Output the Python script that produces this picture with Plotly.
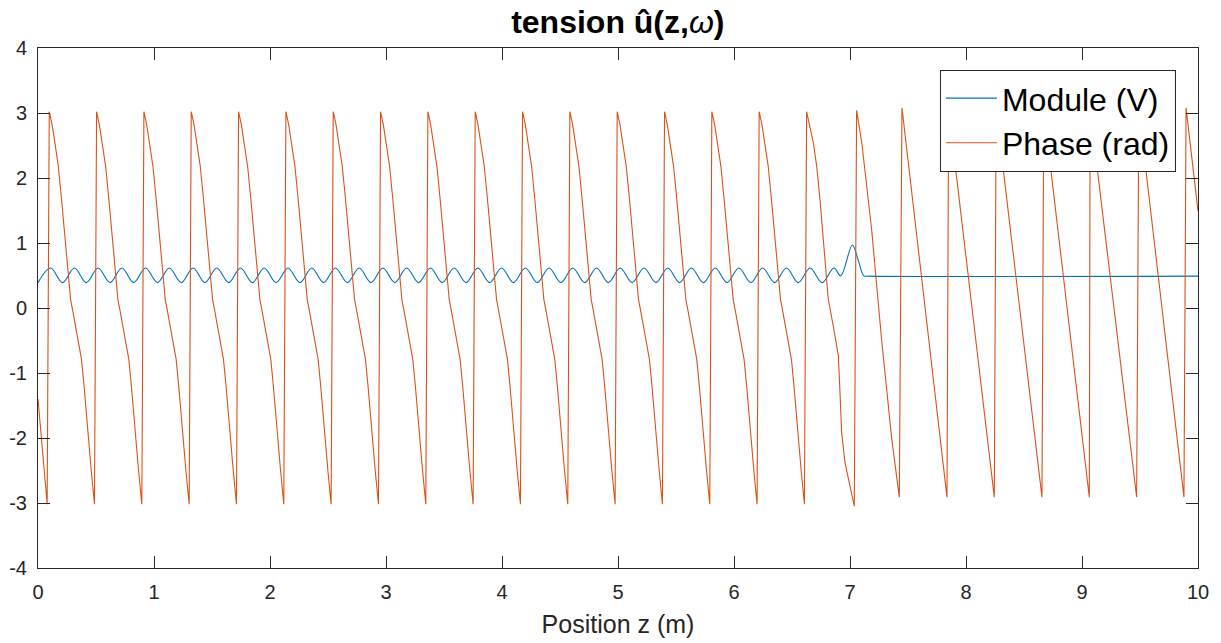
import plotly.graph_objects as go

# ---------------- data ----------------
# Module (V): alternating minima / maxima of the standing-wave ripple, then bump and flat tail
module_z = [0.000, 0.109, 0.212, 0.314, 0.416, 0.518, 0.621, 0.723, 0.825, 0.927,
            1.030, 1.132, 1.235, 1.337, 1.439, 1.541, 1.644, 1.746, 1.848, 1.950,
            2.053, 2.155, 2.258, 2.360, 2.462, 2.564, 2.667, 2.769, 2.871, 2.973,
            3.076, 3.178, 3.281, 3.383, 3.485, 3.587, 3.690, 3.792, 3.894, 3.996,
            4.099, 4.201, 4.304, 4.406, 4.508, 4.610, 4.713, 4.815, 4.917, 5.019,
            5.122, 5.224, 5.327, 5.429, 5.531, 5.633, 5.736, 5.838, 5.940, 6.042,
            6.145, 6.247, 6.350, 6.452, 6.554, 6.656, 6.759, 6.861,
            6.920, 7.020, 7.070, 7.120, 7.160, 10.000]
module_v = [0.39, 0.615, 0.39, 0.615, 0.39, 0.615, 0.39, 0.615, 0.39, 0.615,
            0.39, 0.615, 0.39, 0.615, 0.39, 0.615, 0.39, 0.615, 0.39, 0.615,
            0.39, 0.615, 0.39, 0.615, 0.39, 0.615, 0.39, 0.615, 0.39, 0.615,
            0.39, 0.615, 0.39, 0.615, 0.39, 0.615, 0.39, 0.615, 0.39, 0.615,
            0.39, 0.615, 0.39, 0.615, 0.39, 0.615, 0.39, 0.615, 0.39, 0.615,
            0.39, 0.615, 0.39, 0.615, 0.39, 0.615, 0.39, 0.615, 0.39, 0.615,
            0.39, 0.615, 0.39, 0.615, 0.39, 0.615, 0.39, 0.615,
            0.495, 0.97, 0.74, 0.495, 0.49, 0.49]

# Phase (rad): first partial descent
phase_start_z = [0.000, 0.040, 0.079]
phase_start_v = [-1.40, -2.25, -3.02]
# positions of the -pi -> +pi wraps for the regular cycles (z < 6.63)
phase_wrap_z = [0.097, 0.505, 0.913, 1.321, 1.729, 2.137, 2.545, 2.953,
                3.361, 3.769, 4.177, 4.585, 4.993, 5.401, 5.809, 6.217]
# shape of one regular cycle, read from the cycle starting at z = 0.505
cycle_dz = [0.000, 0.024, 0.049, 0.078, 0.106, 0.135, 0.164, 0.184,
            0.201, 0.235, 0.278, 0.300, 0.320, 0.340, 0.362, 0.390]
cycle_v = [3.02, 2.82, 2.54, 2.18, 1.67, 1.05, 0.44, 0.13,
           -0.03, -0.38, -0.79, -1.20, -1.65, -2.05, -2.50, -3.02]
# the distorted cycle before the load at z ~ 7
phase_c16_z = [6.626, 6.684, 6.713, 6.741, 6.770, 6.799, 6.813, 6.856,
               6.900, 6.914, 6.928, 6.957, 7.000, 7.037]
phase_c16_v = [3.02, 2.54, 2.18, 1.67, 1.00, 0.44, 0.13, -0.28,
               -0.74, -1.31, -1.92, -2.38, -2.74, -3.05]
# matched section: linear phase sawtooth
phase_tail_z = [7.057, 7.101, 7.187, 7.273, 7.359, 7.425,
                7.448, 7.836, 7.850, 8.244, 8.260, 8.655, 8.670, 9.063,
                9.070, 9.471, 9.490, 9.879, 9.897, 10.000]
phase_tail_v = [3.04, 2.55, 1.20, -0.50, -2.00, -2.91,
                3.08, -2.91, 3.06, -2.91, 3.06, -2.91, 3.06, -2.91,
                3.06, -2.91, 3.06, -2.91, 3.08, 1.49]

x_ticks = [0, 1, 2, 3, 4, 5, 6, 7, 8, 9, 10]
y_ticks = [-4, -3, -2, -1, 0, 1, 2, 3, 4]
y_tick_labels = ["-4", "-3", "-2", "-1", "0", "1", "2", "3", "4"]

# ---------------- assemble phase series ----------------
phase_z = list(phase_start_z)
phase_v = list(phase_start_v)
for w in phase_wrap_z:
    phase_z += [w + d for d in cycle_dz]
    phase_v += list(cycle_v)
phase_z += phase_c16_z + phase_tail_z
phase_v += phase_c16_v + phase_tail_v

FONT = "Liberation Sans, Arial, Helvetica, sans-serif"
AX = "#262626"

fig = go.Figure()
fig.add_trace(go.Scatter(x=module_z, y=module_v, mode="lines", name="Module (V)",
                         line=dict(color="#0072BD", width=1.1, shape="spline", smoothing=1)))
fig.add_trace(go.Scatter(x=phase_z, y=phase_v, mode="lines", name="Phase (rad)",
                         line=dict(color="#D95319", width=1.1)))

axis_common = dict(showgrid=False, zeroline=False, showline=True, linecolor=AX, linewidth=1,
                   mirror="allticks", ticks="inside", ticklen=12, tickcolor=AX, tickwidth=1,
                   automargin=False,
                   tickfont=dict(family=FONT, size=20, color=AX))

fig.update_xaxes(range=[0, 10], tickvals=x_ticks, ticklabelstandoff=6,
                 title=dict(text="Position z (m)", font=dict(family=FONT, size=25, color=AX), standoff=13),
                 **axis_common)
fig.update_yaxes(range=[-4, 4], tickvals=y_ticks, ticktext=y_tick_labels, ticklabelstandoff=6,
                 **axis_common)

fig.update_layout(
    width=1221, height=643,
    margin=dict(l=38, r=23, t=48, b=75, autoexpand=False),
    paper_bgcolor="white", plot_bgcolor="white",
    title=dict(text="<b>tension û(z,</b><i>ω</i><b>)</b>", x=0.506, xanchor="center",
               y=1 - 22 / 643, yanchor="middle",
               font=dict(family=FONT, size=32, color="black")),
    legend=dict(x=0.981, xanchor="right", y=0.958, yanchor="top",
                bgcolor="white", bordercolor="#262626", borderwidth=1,
                font=dict(family=FONT, size=32, color="black"),
                tracegroupgap=0, itemwidth=51),
    showlegend=True,
)

fig.write_html("out.html", config={"displayModeBar": False},
               post_script="document.body.style.margin='0';")
